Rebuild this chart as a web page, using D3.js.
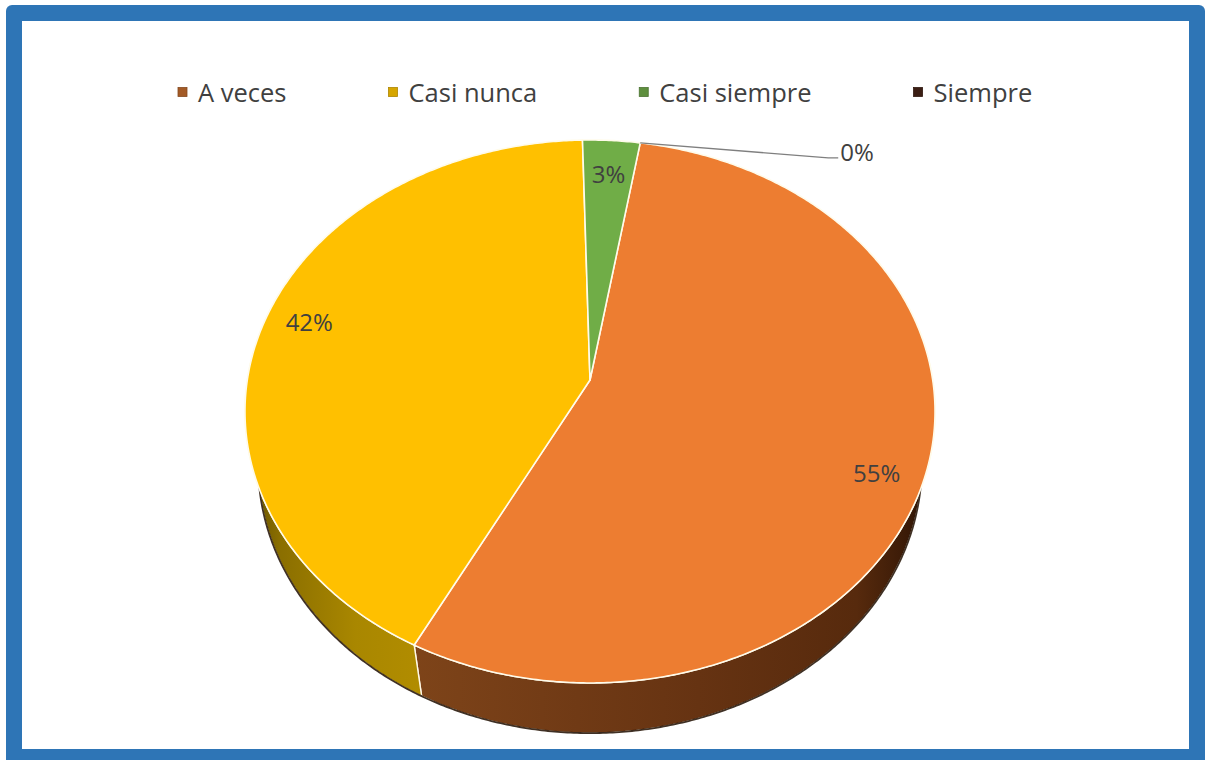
<!DOCTYPE html>
<html>
<head>
<meta charset="utf-8">
<script src="https://cdn.jsdelivr.net/npm/d3@7"></script>
<style>
  body { margin: 0; background: #fff; }
  svg { display: block; }
  text { font-family: "Open Sans", "Liberation Sans", sans-serif; }
</style>
</head>
<body>
<svg id="chart" width="1208" height="760"></svg>
<script>
// Survey answers, share of respondents (%)
const categories = ["A veces", "Casi nunca", "Casi siempre", "Siempre"];
const percents   = [55, 42, 3, 0];
const labels     = ["55%", "42%", "3%", "0%"];

// Face, legend-key and wall colours per category
const topColors = ["#ED7D31", "#FFC000", "#70AD47", "#3B1E14"];
const keyColors = ["#A35A26", "#D6A600", "#5E8F3E", "#3B1E14"];
const wallStops = [
  [[0, "#7e4419"], [0.25, "#733c16"], [0.55, "#663312"], [0.85, "#572a0d"], [1, "#2a1204"]],
  [[0, "#5e4a00"], [0.05, "#8a6e00"], [0.16, "#a98700"], [0.3, "#b58f00"], [1, "#b58f00"]],
  [[0, "#4a7a2e"], [1, "#3c6424"]],
  [[0, "#2a140c"], [1, "#2a140c"]]
];

const data = categories.map((c, i) => ({ name: c, value: percents[i], label: labels[i], i }));

const svg = d3.select("#chart");

// Frame
svg.append("rect").attr("x", 6).attr("y", 5).attr("width", 1199).attr("height", 770)
  .attr("rx", 6).attr("fill", "#2E75B6");
svg.append("rect").attr("x", 22).attr("y", 21).attr("width", 1167).attr("height", 728)
  .attr("fill", "#ffffff");

// Tilted disc seen in perspective
const view = { cx: 590, cy: 380, F: 1843.7, D: 5.38, tilt: 51.4 * Math.PI / 180, depth: 0.273 };
const sT = Math.sin(view.tilt), cT = Math.cos(view.tilt);
function project(r, theta, h) {
  const u = r * Math.sin(theta), v = r * Math.cos(theta);
  const Y = v * sT - h * cT, Z = v * cT + h * sT;
  const w = view.D + Z;
  return [view.cx + view.F * u / w, view.cy - view.F * Y / w];
}
function rim(a0, a1, h) {
  const n = Math.max(2, Math.ceil(Math.abs(a1 - a0) / (Math.PI / 360)));
  return d3.range(n + 1).map(k => project(1, a0 + (a1 - a0) * k / n, h));
}

const deg = Math.PI / 180;
const start = 9.4 * deg;
const pie = d3.pie().sort(null).value(d => d.value).startAngle(start).endAngle(start + 2 * Math.PI);
const arcs = pie(data);
const line = d3.line();

// Wall gradients
const defs = svg.append("defs");
data.forEach((d, i) => {
  const g = defs.append("linearGradient").attr("id", "wall" + i)
    .attr("gradientUnits", "userSpaceOnUse")
    .attr("x1", view.cx - 345).attr("x2", view.cx + 345).attr("y1", 0).attr("y2", 0);
  const stops = i === 0
    ? wallStops[0].map(([o, c]) => [0.24 + o * 0.76, c])
    : wallStops[i];
  stops.forEach(([o, c]) => g.append("stop").attr("offset", o).attr("stop-color", c));
});

// Outer walls (front half only)
const frontA = 60 * deg, frontB = 300 * deg;
const wallG = svg.append("g");
arcs.forEach(a => {
  const a0 = Math.max(a.startAngle, frontA), a1 = Math.min(a.endAngle, frontB);
  if (a1 <= a0) return;
  const pts = rim(a0, a1, 0).concat(rim(a0, a1, view.depth).reverse());
  wallG.append("path").attr("d", line(pts) + "Z")
    .attr("fill", `url(#wall${a.data.i})`)
    .attr("stroke", "#fff8e6").attr("stroke-width", 1.4).attr("stroke-linejoin", "round");
});
// Dark lower rim
svg.append("path").attr("d", line(rim(80 * deg, 280 * deg, view.depth)))
  .attr("fill", "none").attr("stroke", "#1f0e04").attr("stroke-width", 1.8).attr("opacity", 0.85);

// Top faces
const topG = svg.append("g");
arcs.forEach(a => {
  if (a.endAngle - a.startAngle <= 0) return;
  const pts = [project(0, 0, 0)].concat(rim(a.startAngle, a.endAngle, 0));
  topG.append("path").attr("d", line(pts) + "Z")
    .attr("fill", topColors[a.data.i])
    .attr("stroke", "#fffbea").attr("stroke-width", 1.6).attr("stroke-linejoin", "round");
});

// Data labels: fraction along the slice and relative radius
const labelSpots = [[0.52, 0.87], [0.513, 0.87], [0.5, 0.85]];
const labelG = svg.append("g").attr("fill", "#404040").attr("font-size", 24);
arcs.forEach(a => {
  const i = a.data.i;
  if (a.endAngle - a.startAngle > 0) {
    const [f, r] = labelSpots[i];
    const [x, y] = project(r, a.startAngle + (a.endAngle - a.startAngle) * f, 0);
    labelG.append("text").attr("x", x).attr("y", y)
      .attr("text-anchor", "middle").attr("dominant-baseline", "central").text(a.data.label);
  } else {
    // Zero slice: leader line out to the right
    const p0 = project(1, a.startAngle, 0);
    const p1 = [p0[0] + 188, p0[1] + 15];
    const p2 = [p1[0] + 10, p1[1]];
    svg.append("path").attr("d", line([p0, p1, p2]))
      .attr("fill", "none").attr("stroke", "#7f7f7f").attr("stroke-width", 1.3);
    labelG.append("text").attr("x", p2[0] + 2).attr("y", p2[1] - 6)
      .attr("dominant-baseline", "central").text(a.data.label);
  }
});

// Legend
const legend = svg.append("g").attr("font-size", 25.5).attr("fill", "#404040");
let lx = 178;
const ly = 92;
data.forEach((d, i) => {
  legend.append("rect").attr("x", lx).attr("y", ly - 4.5).attr("width", 9).attr("height", 9)
    .attr("fill", keyColors[i]).attr("stroke", d3.color(keyColors[i]).darker(0.6)).attr("stroke-width", 0.8);
  const t = legend.append("text").attr("x", lx + 20).attr("y", ly)
    .attr("dominant-baseline", "central").text(d.name);
  lx += 20 + t.node().getComputedTextLength() + 102;
});
</script>
</body>
</html>
